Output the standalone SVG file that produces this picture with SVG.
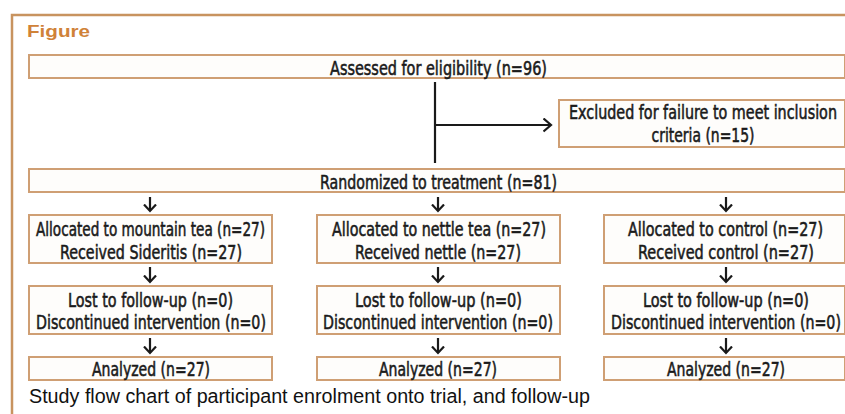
<svg xmlns="http://www.w3.org/2000/svg" width="845" height="414" viewBox="0 0 845 414">
<defs>
<style>
.frame{fill:none;stroke:#c8935f;stroke-width:2.5}
.box{fill:#fefdfb;stroke:#cf9f74;stroke-width:2}
.t{font-family:"DejaVu Sans Condensed","Liberation Sans Narrow","Liberation Sans",sans-serif;font-size:20px;fill:#1a1a1a;stroke:#1a1a1a;stroke-width:0.55;text-anchor:middle}
.cap{font-family:"Liberation Sans","Arial",sans-serif;font-size:20px;fill:#111}
.fig{font-family:"Liberation Sans","Arial",sans-serif;font-size:17px;font-weight:bold;fill:#d08238}
.ln{fill:none;stroke:#1a1a1a;stroke-width:2.2}
</style>
<marker id="ah" markerWidth="11" markerHeight="15" refX="8.5" refY="7.5" orient="auto" markerUnits="userSpaceOnUse">
<path d="M1,1 L8.5,7.5 L1,14" fill="none" stroke="#1a1a1a" stroke-width="2.2"/>
</marker>
<marker id="ahs" markerWidth="10" markerHeight="14" refX="7.5" refY="7" orient="auto" markerUnits="userSpaceOnUse">
<path d="M1,1 L7.5,7 L1,13" fill="none" stroke="#1a1a1a" stroke-width="2.2"/>
</marker>
</defs>
<rect x="0" y="0" width="845" height="414" fill="#ffffff"/>
<path class="frame" d="M12,420 L12,15 L850,15"/>
<text class="fig" x="27" y="37" textLength="63" lengthAdjust="spacingAndGlyphs">Figure</text>

<g id="assessed"><rect class="box" x="29" y="55" width="816" height="23"/>
<text class="t" transform="translate(438.5,74.5) scale(0.76,1)" textLength="285.5" lengthAdjust="spacingAndGlyphs">Assessed for eligibility (n=96)</text></g>

<g id="excluded"><rect class="box" x="559" y="100" width="286" height="47"/>
<text class="t" transform="translate(703,119) scale(0.76,1)" textLength="352.6" lengthAdjust="spacingAndGlyphs">Excluded for failure to meet inclusion</text>
<text class="t" transform="translate(703,141.5) scale(0.76,1)" textLength="135.5" lengthAdjust="spacingAndGlyphs">criteria (n=15)</text></g>

<g id="randomized"><rect class="box" x="29" y="169" width="816" height="23"/>
<text class="t" transform="translate(438.5,188.5) scale(0.76,1)" textLength="311.8" lengthAdjust="spacingAndGlyphs">Randomized to treatment (n=81)</text></g>

<g id="alloc1"><rect class="box" x="29" y="215" width="243" height="48"/>
<text class="t" transform="translate(150.5,236) scale(0.76,1)" textLength="301.3" lengthAdjust="spacingAndGlyphs">Allocated to mountain tea (n=27)</text>
<text class="t" transform="translate(151,258.5) scale(0.76,1)" textLength="239.5" lengthAdjust="spacingAndGlyphs">Received Sideritis (n=27)</text></g>

<g id="alloc2"><rect class="box" x="317" y="215" width="243" height="48"/>
<text class="t" transform="translate(439,236) scale(0.76,1)" textLength="281.6" lengthAdjust="spacingAndGlyphs">Allocated to nettle tea (n=27)</text>
<text class="t" transform="translate(438,258.5) scale(0.76,1)" textLength="218.4" lengthAdjust="spacingAndGlyphs">Received nettle (n=27)</text></g>

<g id="alloc3"><rect class="box" x="604" y="215" width="241" height="48"/>
<text class="t" transform="translate(725.5,236) scale(0.76,1)" textLength="256.6" lengthAdjust="spacingAndGlyphs">Allocated to control (n=27)</text>
<text class="t" transform="translate(726,258.5) scale(0.76,1)" textLength="231.6" lengthAdjust="spacingAndGlyphs">Received control (n=27)</text></g>

<g id="lost1"><rect class="box" x="29" y="286" width="243" height="48"/>
<text class="t" transform="translate(150.5,306.5) scale(0.76,1)" textLength="217.1" lengthAdjust="spacingAndGlyphs">Lost to follow-up (n=0)</text>
<text class="t" transform="translate(151,329) scale(0.76,1)" textLength="302.6" lengthAdjust="spacingAndGlyphs">Discontinued intervention (n=0)</text></g>

<g id="lost2"><rect class="box" x="317" y="286" width="243" height="48"/>
<text class="t" transform="translate(438.5,306.5) scale(0.76,1)" textLength="219.7" lengthAdjust="spacingAndGlyphs">Lost to follow-up (n=0)</text>
<text class="t" transform="translate(438,329) scale(0.76,1)" textLength="302.6" lengthAdjust="spacingAndGlyphs">Discontinued intervention (n=0)</text></g>

<g id="lost3"><rect class="box" x="604" y="286" width="241" height="48"/>
<text class="t" transform="translate(726,306.5) scale(0.76,1)" textLength="218.4" lengthAdjust="spacingAndGlyphs">Lost to follow-up (n=0)</text>
<text class="t" transform="translate(726,329) scale(0.76,1)" textLength="302.6" lengthAdjust="spacingAndGlyphs">Discontinued intervention (n=0)</text></g>

<g id="analyzed1"><rect class="box" x="29" y="357" width="243" height="23"/>
<text class="t" transform="translate(151,376) scale(0.76,1)" textLength="155.3" lengthAdjust="spacingAndGlyphs">Analyzed (n=27)</text></g>

<g id="analyzed2"><rect class="box" x="317" y="357" width="243" height="23"/>
<text class="t" transform="translate(438,376) scale(0.76,1)" textLength="155.3" lengthAdjust="spacingAndGlyphs">Analyzed (n=27)</text></g>

<g id="analyzed3"><rect class="box" x="604" y="357" width="241" height="23"/>
<text class="t" transform="translate(726,376) scale(0.76,1)" textLength="155.3" lengthAdjust="spacingAndGlyphs">Analyzed (n=27)</text></g>

<g id="connectors">
<path class="ln" d="M435,82 L435,163"/>
<path class="ln" d="M435,125 L551,125" marker-end="url(#ah)"/>
<path class="ln" d="M150,197 L150,211" marker-end="url(#ahs)"/>
<path class="ln" d="M438,197 L438,211" marker-end="url(#ahs)"/>
<path class="ln" d="M726,197 L726,211" marker-end="url(#ahs)"/>
<path class="ln" d="M150,267 L150,282" marker-end="url(#ahs)"/>
<path class="ln" d="M438,267 L438,282" marker-end="url(#ahs)"/>
<path class="ln" d="M726,267 L726,282" marker-end="url(#ahs)"/>
<path class="ln" d="M150,338 L150,353" marker-end="url(#ahs)"/>
<path class="ln" d="M438,338 L438,353" marker-end="url(#ahs)"/>
<path class="ln" d="M726,338 L726,353" marker-end="url(#ahs)"/>
</g>

<text class="cap" x="29" y="403" textLength="561" lengthAdjust="spacingAndGlyphs">Study flow chart of participant enrolment onto trial, and follow-up</text>
</svg>
